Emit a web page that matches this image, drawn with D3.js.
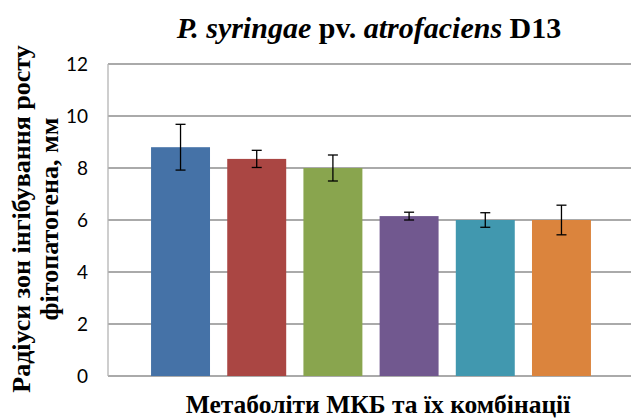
<!DOCTYPE html>
<html>
<head>
<meta charset="utf-8">
<script src="https://cdnjs.cloudflare.com/ajax/libs/d3/7.8.5/d3.min.js"></script>
<style>
  body { margin: 0; background: #fff; }
  svg { display: block; }
</style>
</head>
<body>
<svg id="chart" width="631" height="419"></svg>
<script>
// one category, six series (default office palette)
var series = ["s1", "s2", "s3", "s4", "s5", "s6"];
var values = [8.8, 8.35, 8.0, 6.15, 6.0, 6.0];
var errors = [0.88, 0.33, 0.5, 0.15, 0.28, 0.57];
var colors = ["#4572a7", "#aa4643", "#89a54e", "#71588f", "#4198af", "#db843d"];
var yTicks = [0, 2, 4, 6, 8, 10, 12];

var svg = d3.select("#chart");
var plotL = 108, plotR = 634, plotT = 64, plotB = 376;

var x = d3.scaleBand()
  .domain(series)
  .range([plotL, plotR])
  .paddingInner(0.226)
  .paddingOuter(0.565);

var y = d3.scaleLinear()
  .domain([0, 12])
  .range([plotB, plotT]);

// gridlines
svg.selectAll("line.grid")
  .data(yTicks)
  .enter()
  .append("line")
  .attr("class", "grid")
  .attr("x1", plotL)
  .attr("x2", 631)
  .attr("y1", function(d) { return y(d); })
  .attr("y2", function(d) { return y(d); })
  .style("stroke", "#8e8e8e")
  .style("stroke-width", 1.3);

// left axis line
svg.append("line")
  .attr("x1", plotL).attr("x2", plotL)
  .attr("y1", y(12)).attr("y2", y(0))
  .style("stroke", "#b4b4b4")
  .style("stroke-width", 1.3);

// tick labels
svg.selectAll("text.tick")
  .data(yTicks)
  .enter()
  .append("text")
  .attr("class", "tick")
  .attr("x", 88)
  .attr("y", function(d) { return y(d); })
  .attr("dy", "0.35em")
  .attr("text-anchor", "end")
  .style("font-family", "Lato, 'Open Sans', sans-serif")
  .style("font-size", "19px")
  .style("fill", "#000")
  .text(function(d) { return d; });

// bars
svg.selectAll("rect.bar")
  .data(values)
  .enter()
  .append("rect")
  .attr("class", "bar")
  .attr("x", function(d, i) { return x(series[i]); })
  .attr("width", x.bandwidth())
  .attr("y", function(d) { return y(d); })
  .attr("height", function(d) { return y(0) - y(d); })
  .style("fill", function(d, i) { return colors[i]; });

// error bars
var eb = svg.selectAll("g.err")
  .data(values)
  .enter()
  .append("g")
  .attr("class", "err")
  .style("stroke", "#000")
  .style("stroke-width", 1.3);

eb.append("line")
  .attr("x1", function(d, i) { return x(series[i]) + x.bandwidth() / 2; })
  .attr("x2", function(d, i) { return x(series[i]) + x.bandwidth() / 2; })
  .attr("y1", function(d, i) { return y(d + errors[i]); })
  .attr("y2", function(d, i) { return y(d - errors[i]); });

[1, -1].forEach(function(sgn) {
  eb.append("line")
    .attr("x1", function(d, i) { return x(series[i]) + x.bandwidth() / 2 - 5; })
    .attr("x2", function(d, i) { return x(series[i]) + x.bandwidth() / 2 + 5; })
    .attr("y1", function(d, i) { return y(d + sgn * errors[i]); })
    .attr("y2", function(d, i) { return y(d + sgn * errors[i]); });
});

var serif = "'Liberation Serif', 'Times New Roman', serif";

// title
var title = svg.append("text")
  .attr("x", 369)
  .attr("y", 38)
  .attr("text-anchor", "middle")
  .style("font-family", serif)
  .style("font-size", "30px")
  .style("font-weight", "bold");
title.append("tspan").style("font-style", "italic").text("P. syringae");
title.append("tspan").text(" pv. ");
title.append("tspan").style("font-style", "italic").text("atrofaciens");
title.append("tspan").text(" D13");

// y axis title
var yt = svg.append("text")
  .attr("transform", "translate(30,219) rotate(-90)")
  .attr("text-anchor", "middle")
  .style("font-family", serif)
  .style("font-size", "26px")
  .style("font-weight", "bold");
yt.append("tspan").attr("x", 0).attr("y", 0).text("Радіуси зон інгібування росту");
yt.append("tspan").attr("x", 0).attr("y", 28).text("фітопатогена, мм");

// x axis title
svg.append("text")
  .attr("x", 378)
  .attr("y", 413)
  .attr("text-anchor", "middle")
  .style("font-family", serif)
  .style("font-size", "25.5px")
  .style("font-weight", "bold")
  .text("Метаболіти МКБ та їх комбінації");
</script>
</body>
</html>
